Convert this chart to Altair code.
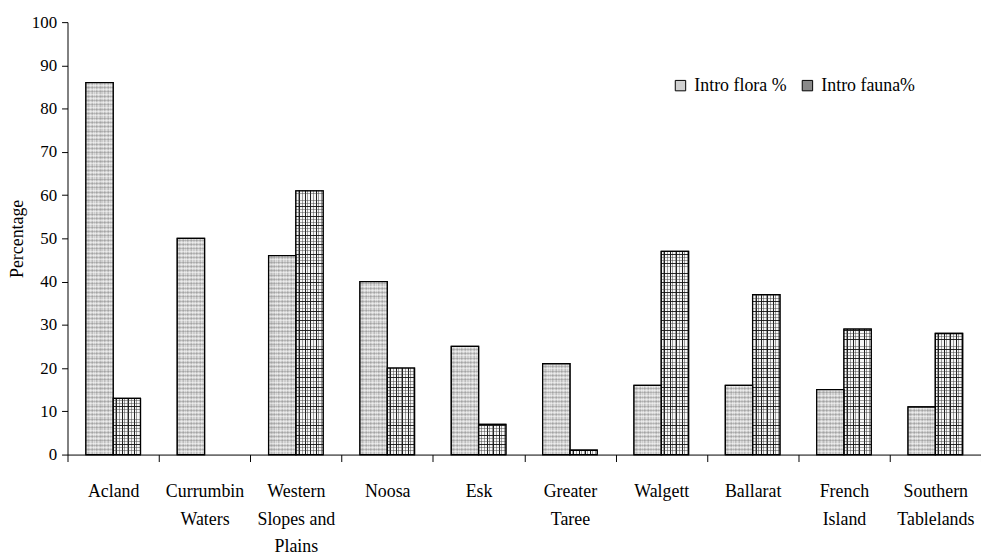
import altair as alt
import pandas as pd

# ---------------- data ----------------
categories = ["Acland", "Currumbin Waters", "Western Slopes and Plains", "Noosa", "Esk",
              "Greater Taree", "Walgett", "Ballarat", "French Island", "Southern Tablelands"]
flora = [86, 50, 46, 40, 25, 21, 16, 16, 15, 11]
fauna = [13, 0, 61, 20, 7, 1, 47, 37, 29, 28]
series = ["Intro flora %", "Intro fauna%"]
y_ticks = [0, 10, 20, 30, 40, 50, 60, 70, 80, 90, 100]

W, H = 921, 436
FONT = "Liberation Serif"

rows = []
for c, f, a in zip(categories, flora, fauna):
    rows.append({"site": c, "series": series[0], "value": f})
    rows.append({"site": c, "series": series[1], "value": a})
df = pd.DataFrame(rows)


# ---------------- pattern helpers (styling only) ----------------
def slice_gradient(pattern, palette):
    n = len(pattern)
    stops = []
    i = 0
    while i < n:
        j = i
        while j < n and pattern[j] == pattern[i]:
            j += 1
        col = palette[pattern[i]]
        stops.append({"offset": i / n, "color": col})
        stops.append({"offset": j / n, "color": col})
        i = j
    return {"gradient": "linear", "x1": 0, "y1": 0, "x2": 1, "y2": 0, "stops": stops}


def hline_gradient(val, step, colors):
    h = val * H / 100.0
    clear = "rgba(0,0,0,0)"
    stops = [{"offset": 0, "color": clear}]
    js = []
    j = step
    while j < h - 1:
        js.append(j)
        j += step
    for k, jj in reversed(list(enumerate(js))):
        col = colors[k % len(colors)]
        a = (h - jj - 1) / h
        b = (h - jj) / h
        stops.append({"offset": a, "color": clear})
        stops.append({"offset": a, "color": col})
        stops.append({"offset": b, "color": col})
        stops.append({"offset": b, "color": clear})
    stops.append({"offset": 1, "color": clear})
    return {"gradient": "linear", "x1": 0, "y1": 0, "x2": 0, "y2": 1, "stops": stops}


flora_fill = slice_gradient("lmsmlmslmlsmlmslmmlsmlmslmlm",
                            {"l": "#dedede", "s": "#bcbcbc", "m": "#cdcdcd"})
fauna_fill = slice_gradient("wwgDwwgwwDwgwwgDwwgwwDwgwwgw",
                            {"w": "#f6f6f6", "g": "#9c9c9c", "D": "#1e1e1e"})
fauna_h = ["rgba(60,60,60,0.45)", "rgba(60,60,60,0.45)", "rgba(20,20,20,0.9)"]
flora_h = ["rgba(255,255,255,0.45)", "rgba(90,90,90,0.25)"]

# ---------------- encodings ----------------
label_expr = ("datum.label == 'Western Slopes and Plains' ? ['Western', 'Slopes and', 'Plains'] "
              ": split(datum.label, ' ')")

x_enc = alt.X("site:N", sort=categories,
              scale=alt.Scale(domain=categories, paddingInner=0, paddingOuter=0),
              axis=alt.Axis(title=None, labelAngle=0, labelExpr=label_expr, tickBand="extent",
                            labelFont=FONT, labelFontSize=18, labelLineHeight=28,
                            labelPadding=21, tickSize=7, tickColor="black", domainColor="black",
                            labelColor="black", labelOverlap=False, labelLimit=200,
                            domainWidth=1, tickWidth=1))
xo_enc = alt.XOffset("series:N", sort=series,
                     scale=alt.Scale(domain=series, paddingInner=0, paddingOuter=0.675))
y_enc = alt.Y("value:Q", scale=alt.Scale(domain=[0, 100], nice=False),
              axis=alt.Axis(values=y_ticks, title="Percentage", grid=False,
                            labelFont=FONT, labelFontSize=17, labelColor="black",
                            labelPadding=5, tickSize=6, tickColor="black",
                            domainColor="black", domainWidth=1, tickWidth=1,
                            titleFont=FONT, titleFontSize=18, titleFontWeight="normal",
                            titleColor="black", titlePadding=5))

base = alt.Chart(df)
nonzero = base.transform_filter(alt.datum.value > 0)

legend_layer = nonzero.mark_bar(stroke="black", strokeWidth=1.3).encode(
    x=x_enc, xOffset=xo_enc, y=y_enc,
    color=alt.Color("series:N", sort=series,
                    scale=alt.Scale(domain=series, range=["#d0d0d0", "#8a8a8a"]),
                    legend=alt.Legend(title=None, orient="none", legendX=609, legendY=55,
                                      direction="horizontal", symbolType="square",
                                      symbolSize=110, symbolStrokeColor="black",
                                      symbolStrokeWidth=1, labelFont=FONT, labelFontSize=18,
                                      labelColor="black", columnPadding=12, labelOffset=5,
                                      labelLimit=300)),
)

flora_layer = base.transform_filter(alt.datum.series == series[0]).mark_bar(
    fill=flora_fill).encode(x=x_enc, xOffset=xo_enc, y=y_enc)
fauna_layer = base.transform_filter(alt.datum.series == series[1]).mark_bar(
    fill=fauna_fill).encode(x=x_enc, xOffset=xo_enc, y=y_enc)

texture_layers = []
for c, v in zip(categories, flora):
    if v <= 0:
        continue
    texture_layers.append(
        base.transform_filter((alt.datum.series == series[0]) & (alt.datum.site == c))
        .mark_bar(fill=hline_gradient(v, 2.2, flora_h))
        .encode(x=x_enc, xOffset=xo_enc, y=y_enc)
    )
for c, v in zip(categories, fauna):
    if v <= 0:
        continue
    texture_layers.append(
        base.transform_filter((alt.datum.series == series[1]) & (alt.datum.site == c))
        .mark_bar(fill=hline_gradient(v, 3.2, fauna_h))
        .encode(x=x_enc, xOffset=xo_enc, y=y_enc)
    )

outline_layer = nonzero.mark_bar(
    fill="transparent", stroke="black", strokeWidth=1.3).encode(
    x=x_enc, xOffset=xo_enc, y=y_enc)

chart = alt.layer(legend_layer, flora_layer, fauna_layer, *texture_layers, outline_layer).properties(
    width=W, height=H,
    autosize=alt.AutoSizeParams(type="none"),
    padding={"left": 60, "top": 12, "right": 0, "bottom": 100},
    background="white",
).configure_view(stroke=None)

chart.save("out.html", embed_options={"renderer": "svg", "actions": False})
